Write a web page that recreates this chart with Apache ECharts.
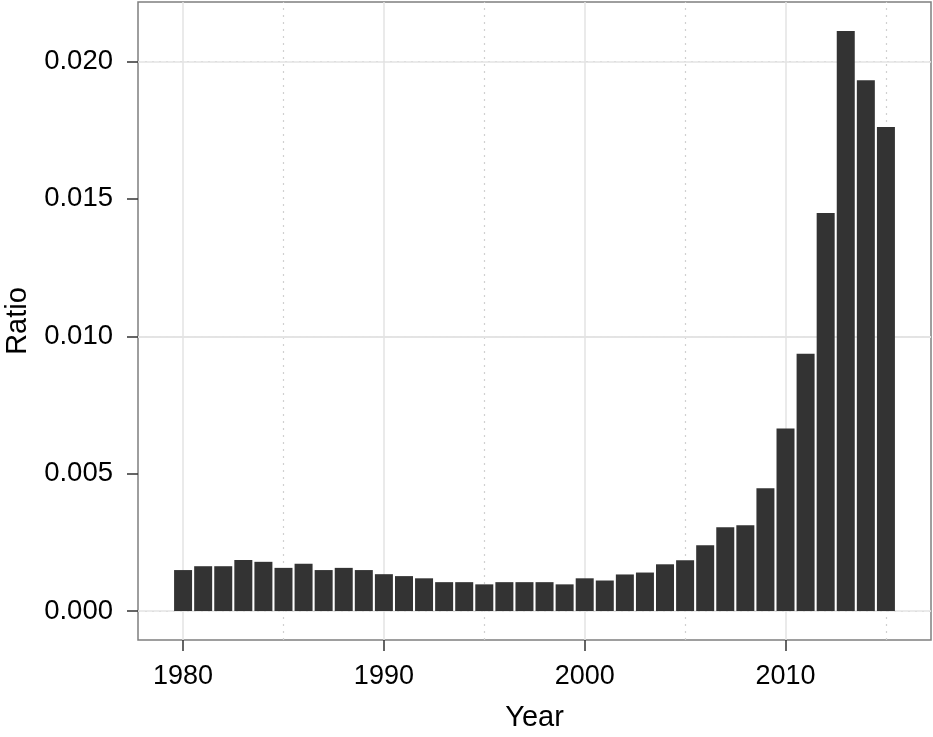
<!DOCTYPE html>
<html><head><meta charset="utf-8">
<script src="https://cdn.jsdelivr.net/npm/echarts@6/dist/echarts.min.js"></script>
<style>html,body{margin:0;padding:0;background:#fff}#c{width:933px;height:737px}</style>
</head><body><div id="c"></div>
<script>
const years = [1980,1981,1982,1983,1984,1985,1986,1987,1988,1989,1990,1991,1992,1993,1994,1995,1996,1997,1998,1999,2000,2001,2002,2003,2004,2005,2006,2007,2008,2009,2010,2011,2012,2013,2014,2015];
const ratio = [0.00149,0.00163,0.00163,0.00186,0.00179,0.00157,0.00172,0.00149,0.00157,0.00149,0.00134,0.00127,0.00119,0.00105,0.00105,0.00097,0.00105,0.00105,0.00105,0.00097,0.00119,0.00111,0.00133,0.00140,0.00170,0.00185,0.00239,0.00305,0.00312,0.00447,0.00664,0.00936,0.01449,0.02111,0.01932,0.01762];
const xTicks = [1980,1990,2000,2010];
const xMinor = [1985,1995,2005,2015];
const yTicks = [0,0.005,0.010,0.015,0.020];
const yMinor = [0.0025,0.0075,0.0125,0.0175];

const FONT = 'Liberation Sans, Arial, Helvetica, sans-serif';
const majorStyle = {color:'#e3e3e3', width:1.5, type:'solid'};
const minorStyle = {color:'#d0d0d0', width:1.2, type:[2,5]};
const gridLines = []
  .concat(yMinor.map(v=>({yAxis:v, lineStyle:minorStyle})))
  .concat(xMinor.map(v=>({xAxis:v, lineStyle:minorStyle})))
  .concat(yTicks.map(v=>({yAxis:v, lineStyle:majorStyle})))
  .concat(xTicks.map(v=>({xAxis:v, lineStyle:majorStyle})));

const chart = echarts.init(document.getElementById('c'), null, {renderer:'canvas'});
chart.setOption({
  animation:false,
  backgroundColor:'#fff',
  grid:{left:138, top:2, right:2, bottom:97, containLabel:false, outerBoundsMode:'none',
        show:true, borderColor:'#7f7f7f', borderWidth:1.5, backgroundColor:'#fff'},
  xAxis:{
    type:'value', min:1977.755, max:2017.245,
    axisLine:{show:false, onZero:false},
    axisTick:{show:true, customValues:xTicks, length:11, lineStyle:{color:'#333', width:1.5}},
    axisLabel:{customValues:xTicks, fontSize:27, color:'#000', fontFamily:FONT, margin:23, formatter:v=>String(v)},
    splitLine:{show:false},
    name:'Year', nameLocation:'middle', nameGap:63,
    nameTextStyle:{fontSize:29, color:'#000', fontFamily:FONT}
  },
  yAxis:{
    type:'value', min:-0.0010555, max:0.0221665,
    axisLine:{show:false, onZero:false},
    axisTick:{show:true, customValues:yTicks, length:11, lineStyle:{color:'#333', width:1.5}},
    axisLabel:{customValues:yTicks, fontSize:27.5, color:'#000', fontFamily:FONT, margin:25, formatter:v=>v.toFixed(3)},
    splitLine:{show:false},
    name:'Ratio', nameLocation:'middle', nameGap:106, nameRotate:90,
    nameTextStyle:{fontSize:29, color:'#000', fontFamily:FONT}
  },
  series:[
    {type:'line', data:[], z:1, silent:true,
     markLine:{z:1, silent:true, symbol:['none','none'], label:{show:false}, animation:false, data:gridLines}},
    {type:'bar', z:3, barWidth:18, itemStyle:{color:'#333333'},
     data:years.map((y,i)=>[y, ratio[i]])}
  ]
});
</script>
</body></html>
